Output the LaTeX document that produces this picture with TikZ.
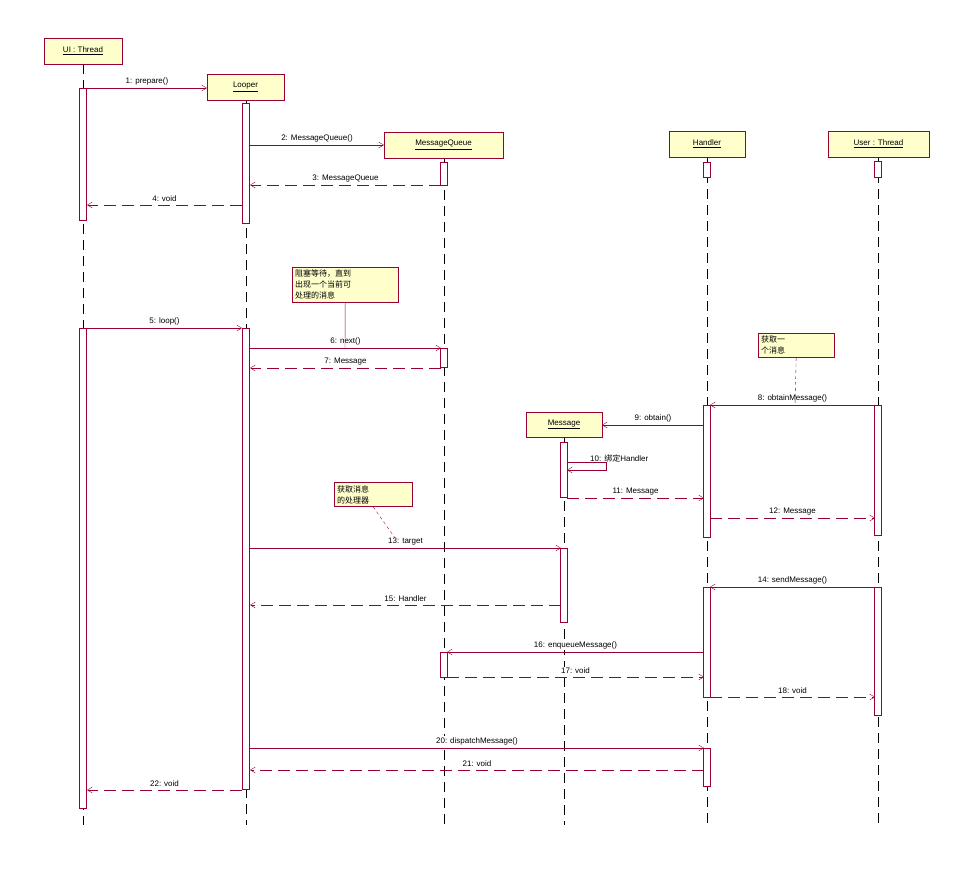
\documentclass[tikz,border=0pt]{standalone}
\usepackage{fontspec}
\setmainfont{Liberation Sans}
\newfontfamily\cjk{Noto Sans CJK SC}
\usetikzlibrary{arrows.meta,shapes.misc}
\definecolor{umlred}{HTML}{990033}
\definecolor{umlfill}{HTML}{FFFFCC}
\tikzset{
    obj/.style={draw=umlred, fill=umlfill, minimum height=26pt, inner sep=0pt, font=\fontsize{8}{9}\selectfont},
    act/.style={draw=umlred, fill=white},
    life/.style={draw=black, dash pattern=on 10pt off 6pt},
    call/.style={draw=umlred, -{Straight Barb[length=5pt,width=6pt]}},
    ret/.style={draw=umlred, dash pattern=on 12pt off 6pt, -{Straight Barb[length=5pt,width=6pt]}},
    lbl/.style={font=\fontsize{8}{9}\selectfont, inner sep=1pt, fill=white},
    note/.style={draw=umlred, fill=umlfill, font=\cjk\fontsize{8}{11}\selectfont, align=left, inner sep=3pt, anchor=north west, text width=#1}
}
% message: name, y, x from, x to, style, label
\newcommand{\msg}[6]{%
    \coordinate (#1a) at (#3,#2);
    \coordinate (#1b) at (#4,#2);
    \draw[#5] (#1a) -- (#1b);
    \node[lbl, anchor=south] (#1l) at ($(#1a)!0.5!(#1b)+(0,-2)$) {#6};
}
\usetikzlibrary{calc}
\begin{document}
\begin{tikzpicture}[x=1pt,y=-1pt]
    \useasboundingbox[fill=white] (0,0) rectangle (975,889);

    % Lifelines
    \foreach \n/\x/\t in {ui/83/64, looper/246/100, queue/444/158, handler/707/157, user/878/157, message/564/437} {
        \coordinate (\n top) at (\x,\t);
        \coordinate (\n bot) at (\x,825);
        \draw[life] (\n top) -- (\n bot);
    }

    % Objects
    \node[obj, minimum width=78pt] (ui) at (83,51) {\underline{UI : Thread}};
    \node[obj, minimum width=77pt] (looper) at (245.5,87) {\underline{Looper}};
    \node[obj, minimum width=119pt] (queue) at (443.5,145) {\underline{MessageQueue}};
    \node[obj, minimum width=76pt] (handler) at (707,144) {\underline{Handler}};
    \node[obj, minimum width=101pt] (user) at (878.5,144) {\underline{User : Thread}};
    \node[obj, minimum width=76pt, minimum height=25pt] (message) at (564,424.5) {\underline{Message}};

    % Activations
    \foreach \x/\a/\b in {83/88/220, 83/328/808, 246/103/223, 246/328/789,
                          444/162/185, 444/348/367, 444/652/677,
                          707/162/177, 707/405/537, 707/587/697, 707/748/786,
                          878/161/177, 878/405/535, 878/587/715,
                          564/442/497, 564/548/622} {
        \draw[act] (\x-3.5,\a) rectangle (\x+3.5,\b);
    }

    % Messages
    \msg{m1}{88}{87}{207}{call}{1: prepare()}
    \msg{m2}{145}{250}{384}{call}{2: MessageQueue()}
    \msg{m3}{185}{441}{250}{ret}{3: MessageQueue}
    \msg{m4}{205}{242}{87}{ret}{4: void}
    \msg{m5}{328}{87}{242}{call}{5: loop()}
    \msg{m6}{348}{250}{441}{call}{6: next()}
    \msg{m7}{368}{441}{250}{ret}{7: Message}
    \msg{m8}{405}{875}{710}{call}{8: obtainMessage()}
    \msg{m9}{425}{704}{602}{call}{9: obtain()}
    \msg{m11}{498}{567}{704}{ret}{11: Message}
    \msg{m12}{518}{710}{875}{ret}{12: Message}
    \msg{m13}{548}{250}{561}{call}{13: target}
    \msg{m14}{587}{875}{710}{call}{14: sendMessage()}
    \msg{m15}{605}{561}{250}{ret}{15: Handler}
    \msg{m16}{652}{704}{447}{call}{16: enqueueMessage()}
    \msg{m17}{677}{447}{704}{ret}{17: void}
    \msg{m18}{697}{710}{875}{ret}{18: void}
    \msg{m20}{748}{250}{704}{call}{20: dispatchMessage()}
    \msg{m21}{770}{704}{250}{ret}{21: void}
    \msg{m22}{790}{242}{87}{ret}{22: void}

    % Self call
    \coordinate (m10a) at (567,462);
    \coordinate (m10b) at (567,470);
    \draw[call] (m10a) -- (606,462) -- (606,470) -- (m10b);
    \node[lbl, anchor=south west, fill=none] (m10l) at (589,463) {10: {\cjk 绑定}Handler};

    % Notes
    \node[note=100pt] (n1) at (292,267) {阻塞等待，直到\\出现一个当前可\\处理的消息};
    \node[note=70pt] (n2) at (758,333) {获取一\\个消息};
    \node[note=72pt] (n3) at (334,482) {获取消息\\的处理器};
    \draw[umlred] (n1.south) -- (345,348);
    \draw[umlred, dashed] (n2.south) -- (795,405);
    \draw[umlred, dashed] (n3.south) -- (395,538);
\end{tikzpicture}
\end{document}
